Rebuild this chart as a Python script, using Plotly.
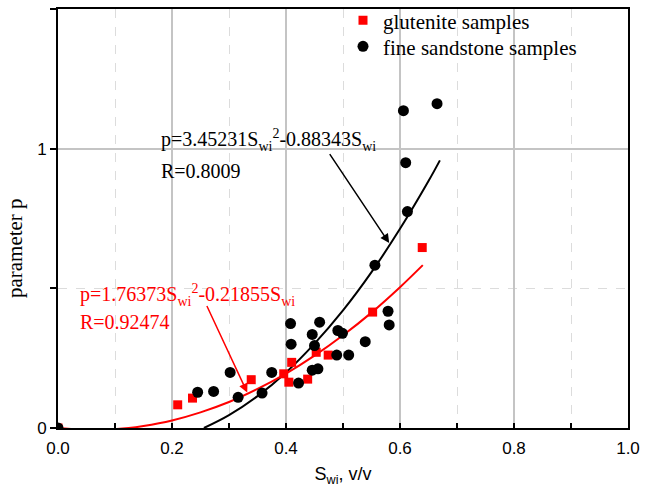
import plotly.graph_objects as go

# --- data ---
glut_x = [0.0, 0.210, 0.236, 0.339, 0.396, 0.405, 0.410, 0.438, 0.453, 0.474, 0.552, 0.639]
glut_y = [0.0, 0.083, 0.107, 0.173, 0.194, 0.164, 0.235, 0.175, 0.271, 0.261, 0.415, 0.646]

sand_x = [0.0, 0.245, 0.273, 0.302, 0.316, 0.358, 0.375, 0.408, 0.409, 0.422, 0.446, 0.456,
          0.446, 0.450, 0.459, 0.489, 0.491, 0.499, 0.510, 0.539, 0.556, 0.579, 0.581,
          0.606, 0.610, 0.613, 0.665]
sand_y = [0.0, 0.128, 0.131, 0.199, 0.110, 0.125, 0.199, 0.374, 0.300, 0.161, 0.207, 0.212,
          0.335, 0.295, 0.379, 0.261, 0.349, 0.339, 0.261, 0.309, 0.583, 0.418, 0.369,
          1.136, 0.950, 0.775, 1.161]

# fitted curves
fit_sand_x = [0.256, 0.30, 0.35, 0.40, 0.45, 0.50, 0.55, 0.60, 0.65, 0.67]
fit_sand_y = [0.0, 0.046, 0.114, 0.199, 0.302, 0.421, 0.558, 0.713, 0.884, 0.958]

fit_glut_x = [0.0, 0.062, 0.124, 0.15, 0.20, 0.25, 0.30, 0.35, 0.40, 0.45, 0.50, 0.55, 0.60, 0.64]
fit_glut_y = [0.0, -0.007, 0.0, 0.007, 0.027, 0.056, 0.093, 0.140, 0.195, 0.259, 0.332, 0.413, 0.504, 0.583]

x_ticks = [0.0, 0.2, 0.4, 0.6, 0.8, 1.0]
x_ticklabels = ["0.0", "0.2", "0.4", "0.6", "0.8", "1.0"]
y_ticks = [0, 1]
y_ticklabels = ["0", "1"]

SERIF = "Liberation Serif"
SANS = "Liberation Sans"

fig = go.Figure()

fig.add_trace(go.Scatter(x=fit_sand_x, y=fit_sand_y, mode="lines", line=dict(color="black", width=2, shape="spline"),
                         showlegend=False, hoverinfo="skip"))
fig.add_trace(go.Scatter(x=fit_glut_x, y=fit_glut_y, mode="lines", line=dict(color="#ff0000", width=2, shape="spline"),
                         showlegend=False, hoverinfo="skip"))

fig.add_trace(go.Scatter(x=glut_x, y=glut_y, mode="markers", name="glutenite samples",
                         legend="legend",
                         marker=dict(symbol="square", size=9, color="#ff0000", line=dict(width=0)),
                         cliponaxis=True))
fig.add_trace(go.Scatter(x=sand_x, y=sand_y, mode="markers", name="fine sandstone samples",
                         legend="legend2",
                         marker=dict(symbol="circle", size=11, color="black", line=dict(width=0)),
                         cliponaxis=True))

# equation annotations
fig.add_annotation(x=0.177, y=1.03, xref="x", yref="y", xanchor="left", yanchor="middle",
                   text="p=3.45231S<sub>wi</sub><sup>2</sup>-0.88343S<sub>wi</sub>", showarrow=False,
                   font=dict(family=SERIF, size=20, color="black"))
fig.add_annotation(x=0.177, y=0.921, xref="x", yref="y", xanchor="left", yanchor="middle",
                   text="R=0.8009", showarrow=False, font=dict(family=SERIF, size=20, color="black"))
fig.add_annotation(x=0.035, y=0.477, xref="x", yref="y", xanchor="left", yanchor="middle",
                   text="p=1.76373S<sub>wi</sub><sup>2</sup>-0.21855S<sub>wi</sub>", showarrow=False,
                   font=dict(family=SERIF, size=20, color="#ff0000"))
fig.add_annotation(x=0.035, y=0.381, xref="x", yref="y", xanchor="left", yanchor="middle",
                   text="R=0.92474", showarrow=False, font=dict(family=SERIF, size=20, color="#ff0000"))

# arrows
fig.add_annotation(x=0.581, y=0.662, ax=0.475, ay=0.986, xref="x", yref="y", axref="x", ayref="y",
                   text="", showarrow=True, arrowhead=2, arrowsize=1.2, arrowwidth=1.5, arrowcolor="black")
fig.add_annotation(x=0.332, y=0.127, ax=0.260, ay=0.442, xref="x", yref="y", axref="x", ayref="y",
                   text="", showarrow=True, arrowhead=2, arrowsize=1.2, arrowwidth=1.5, arrowcolor="#ff0000")

# y axis title (placed below the plot centre as in the reference)
fig.add_annotation(x=-0.075, y=0.43, xref="paper", yref="paper", xanchor="center", yanchor="middle",
                   text="parameter p", textangle=-90, showarrow=False,
                   font=dict(family=SERIF, size=21, color="black"))

legend_common = dict(xanchor="left", yanchor="top", bgcolor="rgba(0,0,0,0)",
                     font=dict(family=SERIF, size=21, color="black"), itemwidth=30)

fig.update_layout(
    width=646, height=493,
    margin=dict(l=58, r=18, t=9, b=65, autoexpand=False),
    plot_bgcolor="white", paper_bgcolor="white",
    showlegend=True,
    legend=dict(x=0.50, y=1.021, **legend_common),
    legend2=dict(x=0.50, y=0.959, **legend_common),
)

fig.update_xaxes(
    range=[0, 1.0], tickvals=x_ticks, ticktext=x_ticklabels,
    showline=True, linecolor="black", linewidth=2, mirror=True,
    ticks="inside", ticklen=5, tickwidth=1.5, tickcolor="black",
    showgrid=True, gridcolor="#c4c4c4", gridwidth=1.5,
    minor=dict(dtick=0.1, tick0=0, ticks="inside", ticklen=5, tickwidth=1.5, tickcolor="black",
               showgrid=True, gridcolor="#dcdcdc", gridwidth=1, griddash="dash"),
    tickfont=dict(family=SANS, size=17, color="black"),
    ticklabelstandoff=4,
    title=dict(text="S<sub>wi</sub>, v/v", font=dict(family=SANS, size=18, color="black"), standoff=10),
    zeroline=False,
)
fig.update_yaxes(
    range=[0, 1.5], tickvals=y_ticks, ticktext=y_ticklabels,
    showline=True, linecolor="black", linewidth=2, mirror=True,
    ticks="outside", ticklen=6, tickwidth=1.5, tickcolor="black",
    showgrid=True, gridcolor="#c4c4c4", gridwidth=1.5,
    minor=dict(dtick=0.5, tick0=0, ticks="outside", ticklen=6, tickwidth=1.5, tickcolor="black",
               showgrid=True, gridcolor="#dcdcdc", gridwidth=1, griddash="dash"),
    tickfont=dict(family=SANS, size=17, color="black"),
    zeroline=False,
)

fig.write_html("out.html")
